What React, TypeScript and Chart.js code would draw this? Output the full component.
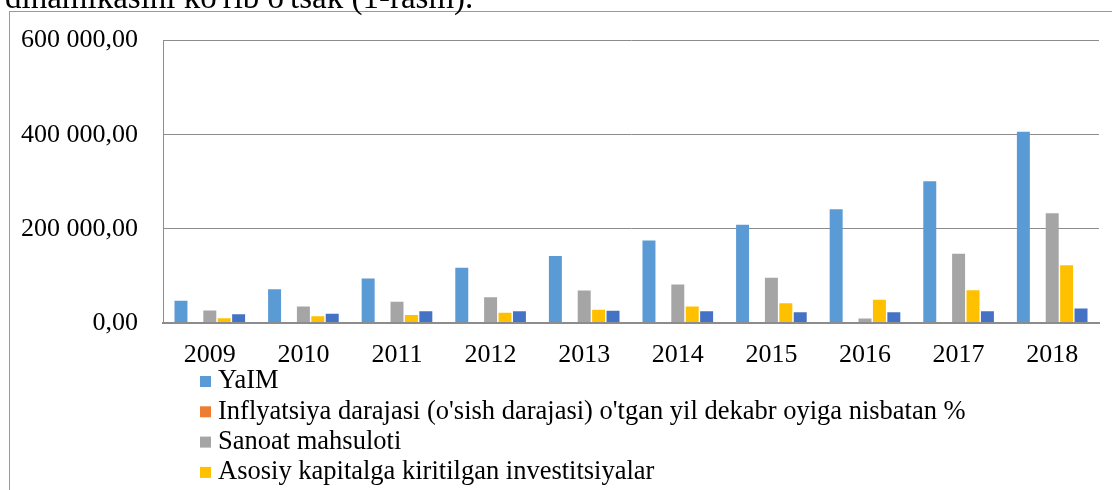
import React, { useEffect, useRef } from "react";
import { Chart, registerables } from "chart.js";

Chart.register(...registerables);

const years = ["2009", "2010", "2011", "2012", "2013", "2014", "2015", "2016", "2017", "2018"];
const yaim = [47300, 71800, 94400, 117600, 142300, 175300, 208500, 241600, 301400, 406300];
const inflyatsiya = [7.4, 7.3, 7.6, 7.0, 6.8, 6.1, 5.6, 5.7, 14.4, 14.3];
const sanoat = [26800, 35300, 45200, 54900, 69000, 81700, 95900, 9300, 147200, 233200];
const investitsiya = [9900, 14100, 16900, 22000, 28300, 35300, 42200, 49400, 69700, 122500];
const beshinchi = [18400, 19800, 24700, 24700, 26200, 24700, 22600, 22600, 24700, 31000];
const yTicks = [0, 200000, 400000, 600000];

const seriesNames = [
  "YaIM",
  "Inflyatsiya darajasi (o'sish darajasi) o'tgan yil dekabr oyiga nisbatan %",
  "Sanoat mahsuloti",
  "Asosiy kapitalga kiritilgan investitsiyalar",
  "Tashqi savdo aylanmasi",
];
const seriesColors = ["#5B9BD5", "#ED7D31", "#A5A5A5", "#FFC000", "#4472C4"];
const caption = "dinamikasini ko'rib o'tsak (1-rasm).";

const FONT = '"Liberation Serif", "Times New Roman", serif';

function fmt(v: number): string {
  const s = Math.round(v).toString();
  const parts: string[] = [];
  for (let i = s.length; i > 0; i -= 3) parts.unshift(s.slice(Math.max(0, i - 3), i));
  return parts.join(" ") + ",00";
}

const decor = {
  id: "decor",
  beforeDraw(chart: any) {
    const ctx = chart.ctx;
    ctx.save();
    ctx.fillStyle = "#ffffff";
    ctx.fillRect(0, 0, chart.width, chart.height);
    ctx.strokeStyle = "#9a9a9a";
    ctx.lineWidth = 1;
    ctx.strokeRect(9.5, 11.5, 1300, 700);
    ctx.font = `33px ${FONT}`;
    ctx.fillStyle = "#000";
    ctx.textBaseline = "alphabetic";
    ctx.fillText(caption, 5, 8);
    ctx.restore();
  },
  afterDraw(chart: any) {
    const ctx = chart.ctx;
    ctx.save();
    ctx.font = `26.5px ${FONT}`;
    ctx.textBaseline = "middle";
    ctx.textAlign = "left";
    seriesNames.forEach((name, i) => {
      const cy = 381.5 + i * 30.3;
      ctx.fillStyle = seriesColors[i];
      ctx.fillRect(200, cy - 5.5, 11, 11);
      ctx.fillStyle = "#000";
      ctx.fillText(name, 218, cy);
    });
    ctx.restore();
  },
};

export default function App() {
  const ref = useRef<HTMLCanvasElement>(null);
  useEffect(() => {
    if (!ref.current) return;
    const series = [yaim, inflyatsiya, sanoat, investitsiya, beshinchi];
    const chart = new Chart(ref.current, {
      type: "bar",
      data: {
        labels: years,
        datasets: series.map((d, i) => ({
          label: seriesNames[i],
          data: d,
          backgroundColor: seriesColors[i],
          borderWidth: 0,
          categoryPercentage: 0.77,
          barPercentage: 0.9,
        })),
      },
      options: {
        responsive: false,
        animation: false,
        layout: { padding: { left: 0, right: 13, top: 38, bottom: 0 } },
        plugins: { legend: { display: false }, tooltip: { enabled: false } },
        scales: {
          x: {
            grid: { display: false, drawTicks: false },
            border: { display: true, color: "#8c8c8c", width: 2, z: 1 },
            ticks: {
              color: "#000",
              font: { family: FONT, size: 26 },
              padding: 17,
              maxRotation: 0,
              autoSkip: false,
            },
            afterFit: (s: any) => {
              s.height = 167;
            },
          },
          y: {
            min: 0,
            max: 600000,
            afterBuildTicks: (s: any) => {
              s.ticks = yTicks.map((v) => ({ value: v }));
            },
            grid: { color: "#8c8c8c", drawTicks: false },
            border: { display: true, color: "#8c8c8c", width: 1 },
            ticks: {
              color: "#000",
              font: { family: FONT, size: 26 },
              padding: 25,
              callback: (v: any) => fmt(Number(v)),
            },
            afterFit: (s: any) => {
              s.width = 163;
            },
          },
        },
      },
      plugins: [decor],
    });
    return () => chart.destroy();
  }, []);
  return (
    <div style={{ position: "fixed", left: 0, top: 0, width: 1112, height: 490, overflow: "hidden", background: "#fff" }}>
      <canvas ref={ref} width={1112} height={490} style={{ width: 1112, height: 490, display: "block" }} />
    </div>
  );
}
